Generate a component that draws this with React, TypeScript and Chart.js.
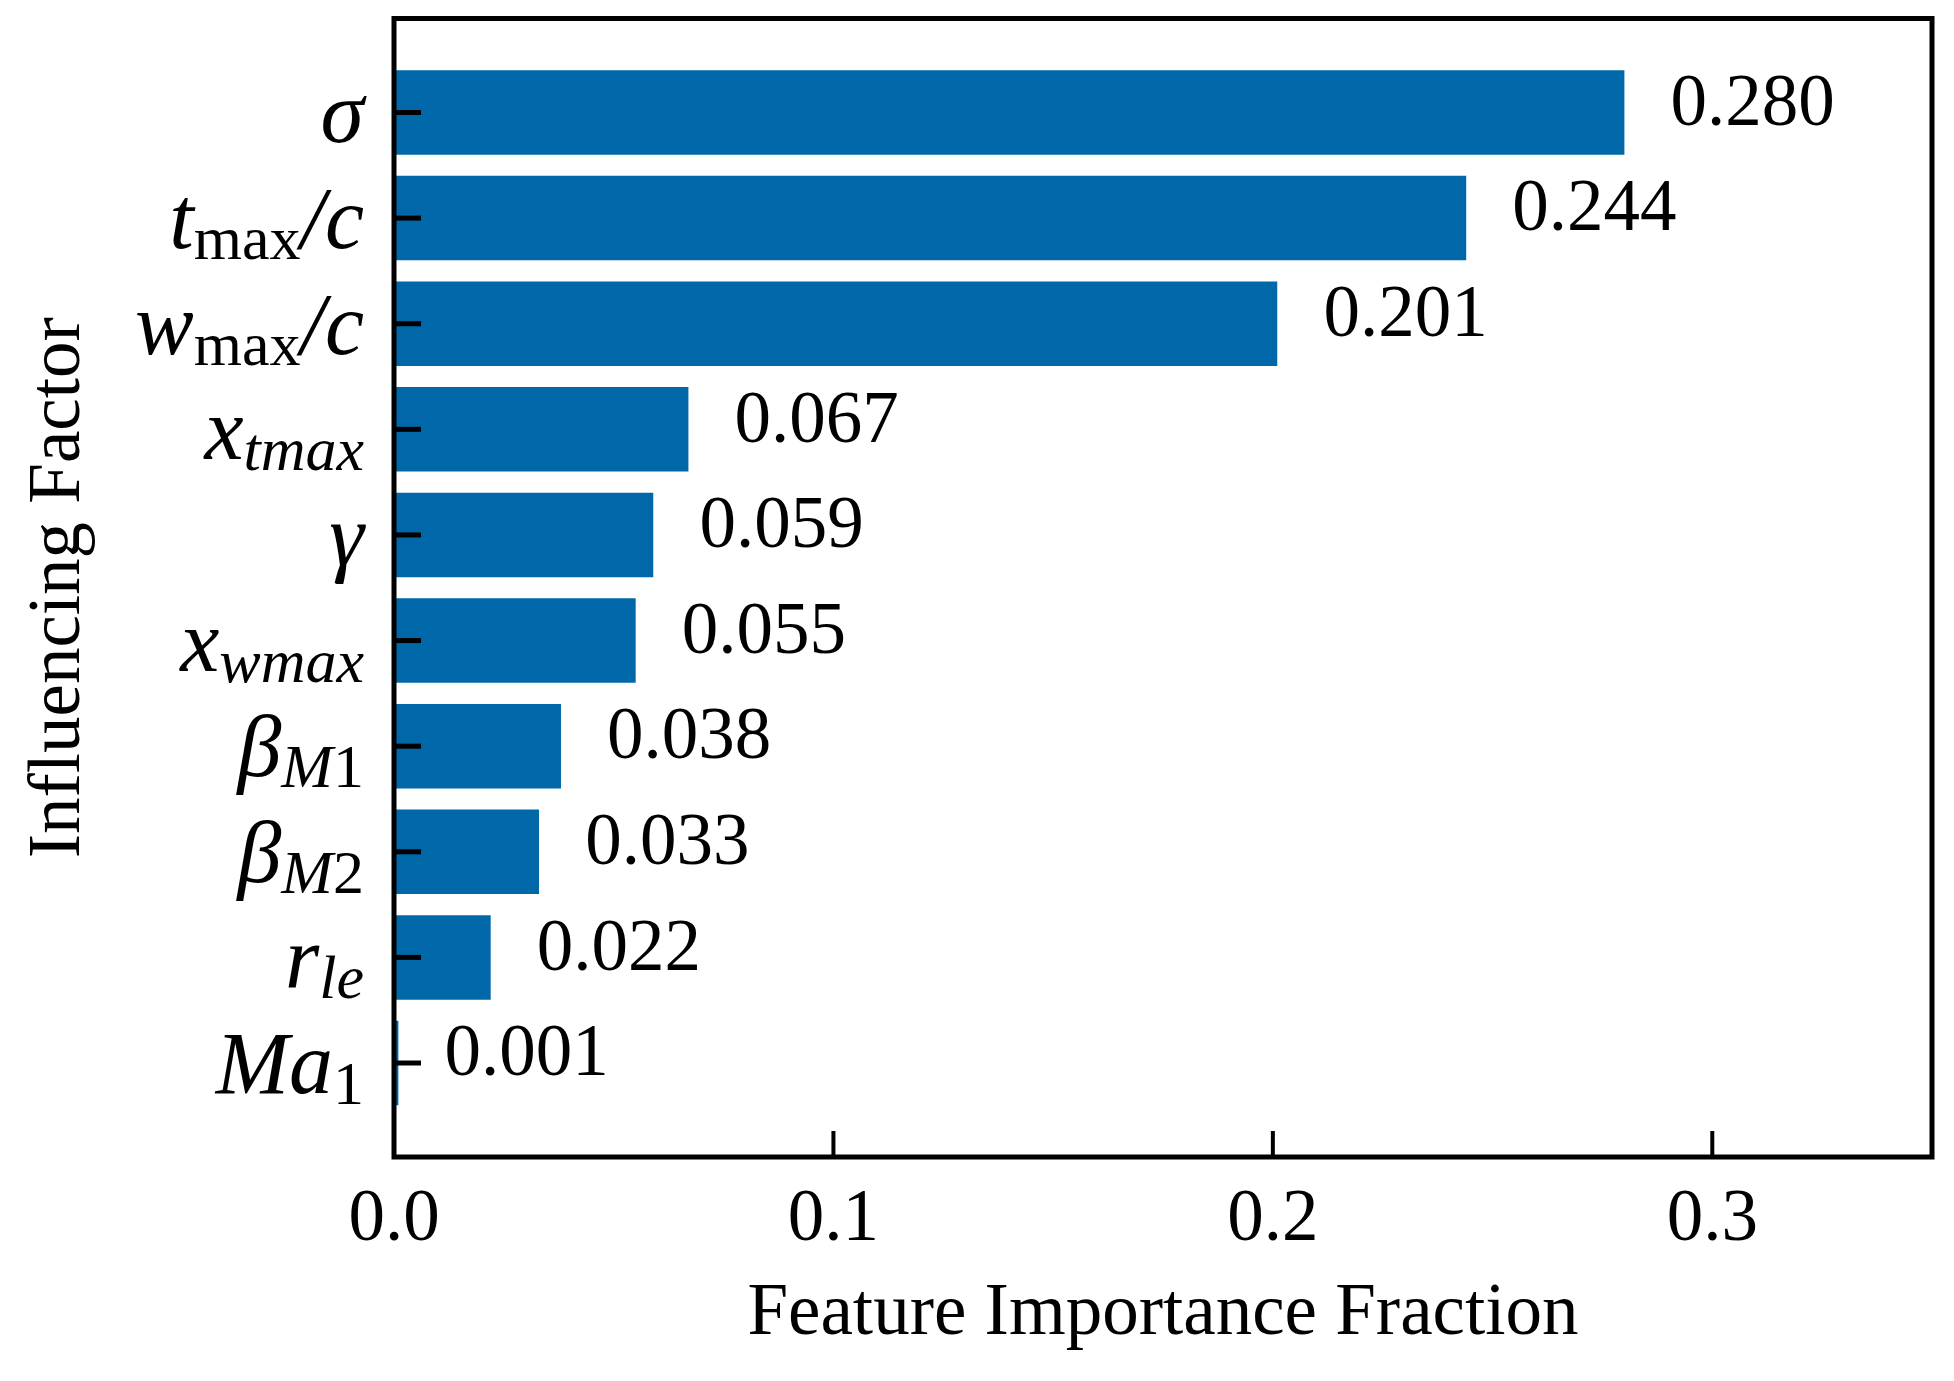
import React, { useEffect, useRef } from 'react';
import { Chart, registerables } from 'chart.js';

Chart.register(...registerables);

// ---- data ----
const categories = [
  'σ',
  't_{\\mathrm{max}}/c',
  'w_{\\mathrm{max}}/c',
  'x_{tmax}',
  'γ',
  'x_{wmax}',
  'β_{M1}',
  'β_{M2}',
  'r_{le}',
  'Ma_{1}',
];
const importance = [0.28, 0.244, 0.201, 0.067, 0.059, 0.055, 0.038, 0.033, 0.022, 0.001];
const xTickValues = [0, 0.1, 0.2, 0.3];

// ---- styles ----
const SERIF = '"Liberation Serif", "Times New Roman", serif';
const TEXT_SIZE = 73;
const MATH_SIZE = 88;
const SUB_SIZE = 62;
const SUB_DROP = 11;
const LABEL_RIGHT = 364;
const LABEL_BASE_OFFSET = 30;
const BAR_COLOR = '#0067A9';

type Part = { text: string; italic: boolean; sub: boolean };

function parseLabel(s: string): Part[] {
  const parts: Part[] = [];
  const push = (ch: string, italic: boolean, sub: boolean) => {
    const last = parts[parts.length - 1];
    if (last && last.italic === italic && last.sub === sub) last.text += ch;
    else parts.push({ text: ch, italic, sub });
  };
  const walk = (str: string, sub: boolean, roman: boolean) => {
    let i = 0;
    while (i < str.length) {
      if (str.startsWith('\\mathrm{', i)) {
        const end = str.indexOf('}', i);
        walk(str.slice(i + 8, end), sub, true);
        i = end + 1;
      } else if (str.startsWith('_{', i)) {
        let depth = 0;
        let j = i + 1;
        for (; j < str.length; j++) {
          if (str[j] === '{') depth++;
          else if (str[j] === '}') {
            depth--;
            if (depth === 0) break;
          }
        }
        walk(str.slice(i + 2, j), true, roman);
        i = j + 1;
      } else {
        const ch = str[i];
        push(ch, !(roman || /[0-9]/.test(ch)), sub);
        i++;
      }
    }
  };
  walk(s, false, false);
  return parts;
}

const decorPlugin = {
  id: 'decor',
  afterDatasetsDraw(chart: any) {
    const { ctx, chartArea } = chart;
    const xs = chart.scales.x;
    const ys = chart.scales.y;
    const { left, right, top, bottom } = chartArea;
    ctx.save();

    // value annotations
    ctx.fillStyle = '#000';
    ctx.font = `${TEXT_SIZE}px ${SERIF}`;
    ctx.textAlign = 'left';
    ctx.textBaseline = 'middle';
    importance.forEach((v, i) => {
      const x = xs.getPixelForValue(v + 0.0105);
      const y = ys.getPixelForValue(i) - 7;
      ctx.fillText(v.toFixed(3), x, y);
    });

    // category labels (math style)
    ctx.textBaseline = 'alphabetic';
    categories.forEach((c, i) => {
      const parts = parseLabel(c);
      const fontFor = (p: Part) => `${p.italic ? 'italic ' : ''}${p.sub ? SUB_SIZE : MATH_SIZE}px ${SERIF}`;
      const widths = parts.map((p) => {
        ctx.font = fontFor(p);
        return ctx.measureText(p.text).width;
      });
      const total = widths.reduce((a, b) => a + b, 0);
      let x = LABEL_RIGHT - total;
      const base = ys.getPixelForValue(i) + LABEL_BASE_OFFSET;
      parts.forEach((p, k) => {
        ctx.font = fontFor(p);
        ctx.fillText(p.text, x, base + (p.sub ? SUB_DROP : 0));
        x += widths[k];
      });
    });

    // inward ticks
    ctx.strokeStyle = '#000';
    ctx.lineCap = 'butt';
    ctx.lineWidth = 5;
    categories.forEach((_, i) => {
      const y = ys.getPixelForValue(i);
      ctx.beginPath();
      ctx.moveTo(left, y);
      ctx.lineTo(left + 27, y);
      ctx.stroke();
    });
    ctx.lineWidth = 4;
    xTickValues.forEach((v) => {
      const x = xs.getPixelForValue(v);
      ctx.beginPath();
      ctx.moveTo(x, bottom);
      ctx.lineTo(x, bottom - 26);
      ctx.stroke();
    });

    // frame
    ctx.lineWidth = 5;
    ctx.strokeRect(left, top, right - left, bottom - top);
    ctx.restore();
  },
};

export default function App() {
  const ref = useRef<HTMLCanvasElement>(null);

  useEffect(() => {
    const chart = new Chart(ref.current as HTMLCanvasElement, {
      type: 'bar',
      data: {
        datasets: [
          {
            label: 'Feature Importance',
            data: importance.map((v, i) => ({ x: v, y: i })),
            backgroundColor: BAR_COLOR,
            borderWidth: 0,
            barPercentage: 0.8,
            categoryPercentage: 1.0,
          },
        ],
      },
      options: {
        indexAxis: 'y',
        animation: false,
        responsive: true,
        maintainAspectRatio: false,
        devicePixelRatio: 1,
        layout: { padding: { left: 0, right: 22, top: 18.5, bottom: 0 } },
        plugins: {
          legend: { display: false },
          tooltip: { enabled: false },
        },
        scales: {
          x: {
            type: 'linear',
            min: 0,
            max: 0.35,
            grid: { display: false },
            border: { display: false },
            afterBuildTicks: (scale: any) => {
              scale.ticks = xTickValues.map((v) => ({ value: v }));
            },
            afterFit: (scale: any) => {
              scale.height = 224;
            },
            ticks: {
              autoSkip: false,
              maxRotation: 0,
              padding: 12,
              color: '#000',
              font: { family: SERIF, size: TEXT_SIZE, lineHeight: 1.2 },
              callback: (v: any) => Number(v).toFixed(1),
            },
            title: {
              display: true,
              text: 'Feature Importance Fraction',
              color: '#000',
              font: { family: SERIF, size: TEXT_SIZE, lineHeight: 1.2 },
              padding: { top: 0, bottom: 22 },
            },
          },
          y: {
            type: 'linear',
            min: -0.89,
            max: 9.89,
            reverse: true,
            offset: false,
            grid: { display: false, offset: false },
            border: { display: false },
            ticks: { display: false },
            afterBuildTicks: (scale: any) => {
              scale.ticks = categories.map((_, i) => ({ value: i }));
            },
            afterFit: (scale: any) => {
              scale.width = 394;
            },
            title: {
              display: true,
              text: 'Influencing Factor',
              color: '#000',
              font: { family: SERIF, size: TEXT_SIZE, lineHeight: 1.2 },
              padding: { top: 16, bottom: 0 },
            },
          },
        },
      },
      plugins: [decorPlugin],
    } as any);
    return () => chart.destroy();
  }, []);

  return (
    <div style={{ position: 'absolute', left: 0, top: 0, width: 1954, height: 1381, background: '#fff' }}>
      <canvas ref={ref} />
    </div>
  );
}
